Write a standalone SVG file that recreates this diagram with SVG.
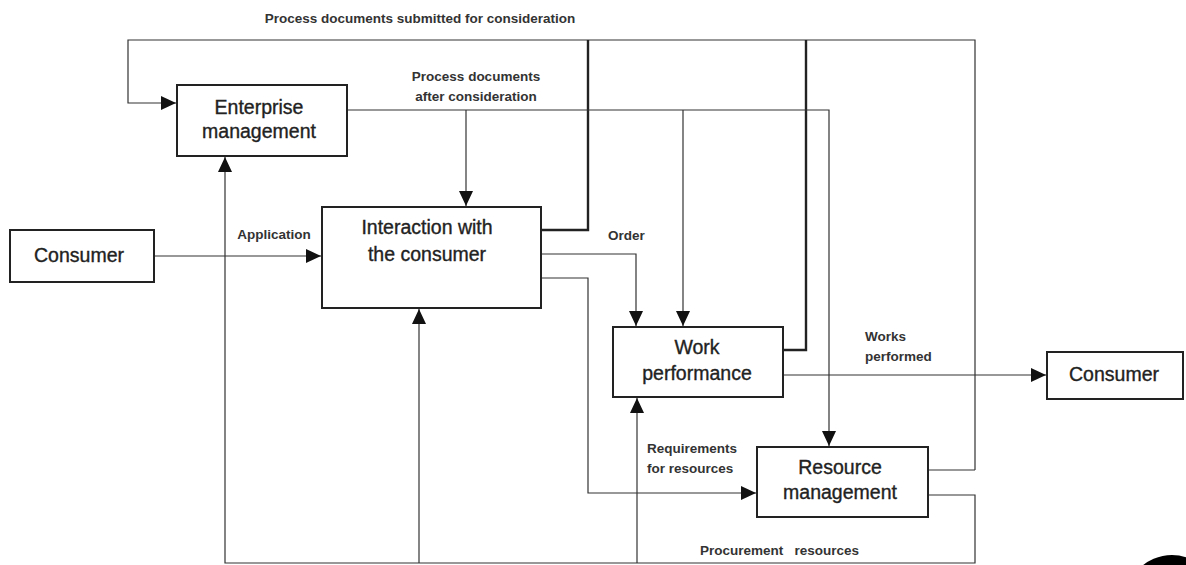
<svg xmlns="http://www.w3.org/2000/svg" width="1186" height="565" viewBox="0 0 1186 565">
<style>
.box{fill:#fff;stroke:#222;stroke-width:2}
.bt{font-family:"Liberation Sans",Arial,sans-serif;font-size:19.5px;fill:#222;stroke:#222;stroke-width:0.35;text-anchor:middle}
.lb{font-family:"Liberation Sans",Arial,sans-serif;font-size:13.5px;font-weight:bold;fill:#333}
.c{fill:none;stroke:#333;stroke-width:1.2}
.ck{fill:none;stroke:#222;stroke-width:2.4}
</style>
<defs>
<marker id="ah" markerUnits="userSpaceOnUse" markerWidth="16" markerHeight="14" refX="15" refY="7" orient="auto">
<path d="M0,0 L15,7 L0,14 Z" fill="#111"/>
</marker>
</defs>
<rect width="1186" height="565" fill="#fff"/>
<g id="connectors">
<path class="c" d="M975,470 V40 H128 V103 H176" marker-end="url(#ah)"/>
<path class="ck" d="M541,230 H588 V40"/>
<path class="ck" d="M783,350 H806 V40"/>
<path class="c" d="M928,470 H975"/>
<path class="c" d="M347,110 H829 V446" marker-end="url(#ah)"/>
<path class="c" d="M466,110 V206" marker-end="url(#ah)"/>
<path class="c" d="M683,110 V326" marker-end="url(#ah)"/>
<path class="c" d="M154,256 H321" marker-end="url(#ah)"/>
<path class="c" d="M541,254 H636 V326" marker-end="url(#ah)"/>
<path class="c" d="M541,278 H588 V493 H756" marker-end="url(#ah)"/>
<path class="c" d="M783,375 H1046" marker-end="url(#ah)"/>
<path class="c" d="M928,495 H975 V563 H225 V157" marker-end="url(#ah)"/>
<path class="c" d="M419,563 V309" marker-end="url(#ah)"/>
<path class="c" d="M637,563 V398" marker-end="url(#ah)"/>
</g>
<g id="labels">
<text class="lb" x="420" y="23" text-anchor="middle">Process documents submitted for consideration</text>
<text class="lb" x="476" y="81" text-anchor="middle">Process documents</text>
<text class="lb" x="476" y="101" text-anchor="middle">after consideration</text>
<text class="lb" x="274" y="239" text-anchor="middle">Application</text>
<text class="lb" x="608" y="240">Order</text>
<text class="lb" x="865" y="341">Works</text>
<text class="lb" x="865" y="361">performed</text>
<text class="lb" x="647" y="453">Requirements</text>
<text class="lb" x="647" y="473">for resources</text>
<text class="lb" x="700" y="555" xml:space="preserve">Procurement   resources</text>
</g>
<g id="enterprise">
<rect class="box" x="177" y="85" width="170" height="71"/>
<text class="bt" x="259" y="114">Enterprise</text>
<text class="bt" x="259" y="138">management</text>
</g>
<g id="consumer-in">
<rect class="box" x="10" y="230" width="144" height="52"/>
<text class="bt" x="79" y="262">Consumer</text>
</g>
<g id="interaction">
<rect class="box" x="322" y="207" width="219" height="101"/>
<text class="bt" x="427" y="234">Interaction with</text>
<text class="bt" x="427" y="261">the consumer</text>
</g>
<g id="work">
<rect class="box" x="613" y="327" width="170" height="70"/>
<text class="bt" x="697" y="354">Work</text>
<text class="bt" x="697" y="380">performance</text>
</g>
<g id="consumer-out">
<rect class="box" x="1047" y="352" width="136" height="47"/>
<text class="bt" x="1114" y="381">Consumer</text>
</g>
<g id="resource">
<rect class="box" x="757" y="447" width="171" height="70"/>
<text class="bt" x="840" y="474">Resource</text>
<text class="bt" x="840" y="499">management</text>
</g>
<ellipse cx="1172" cy="605" rx="48" ry="50" fill="#000"/>
</svg>
